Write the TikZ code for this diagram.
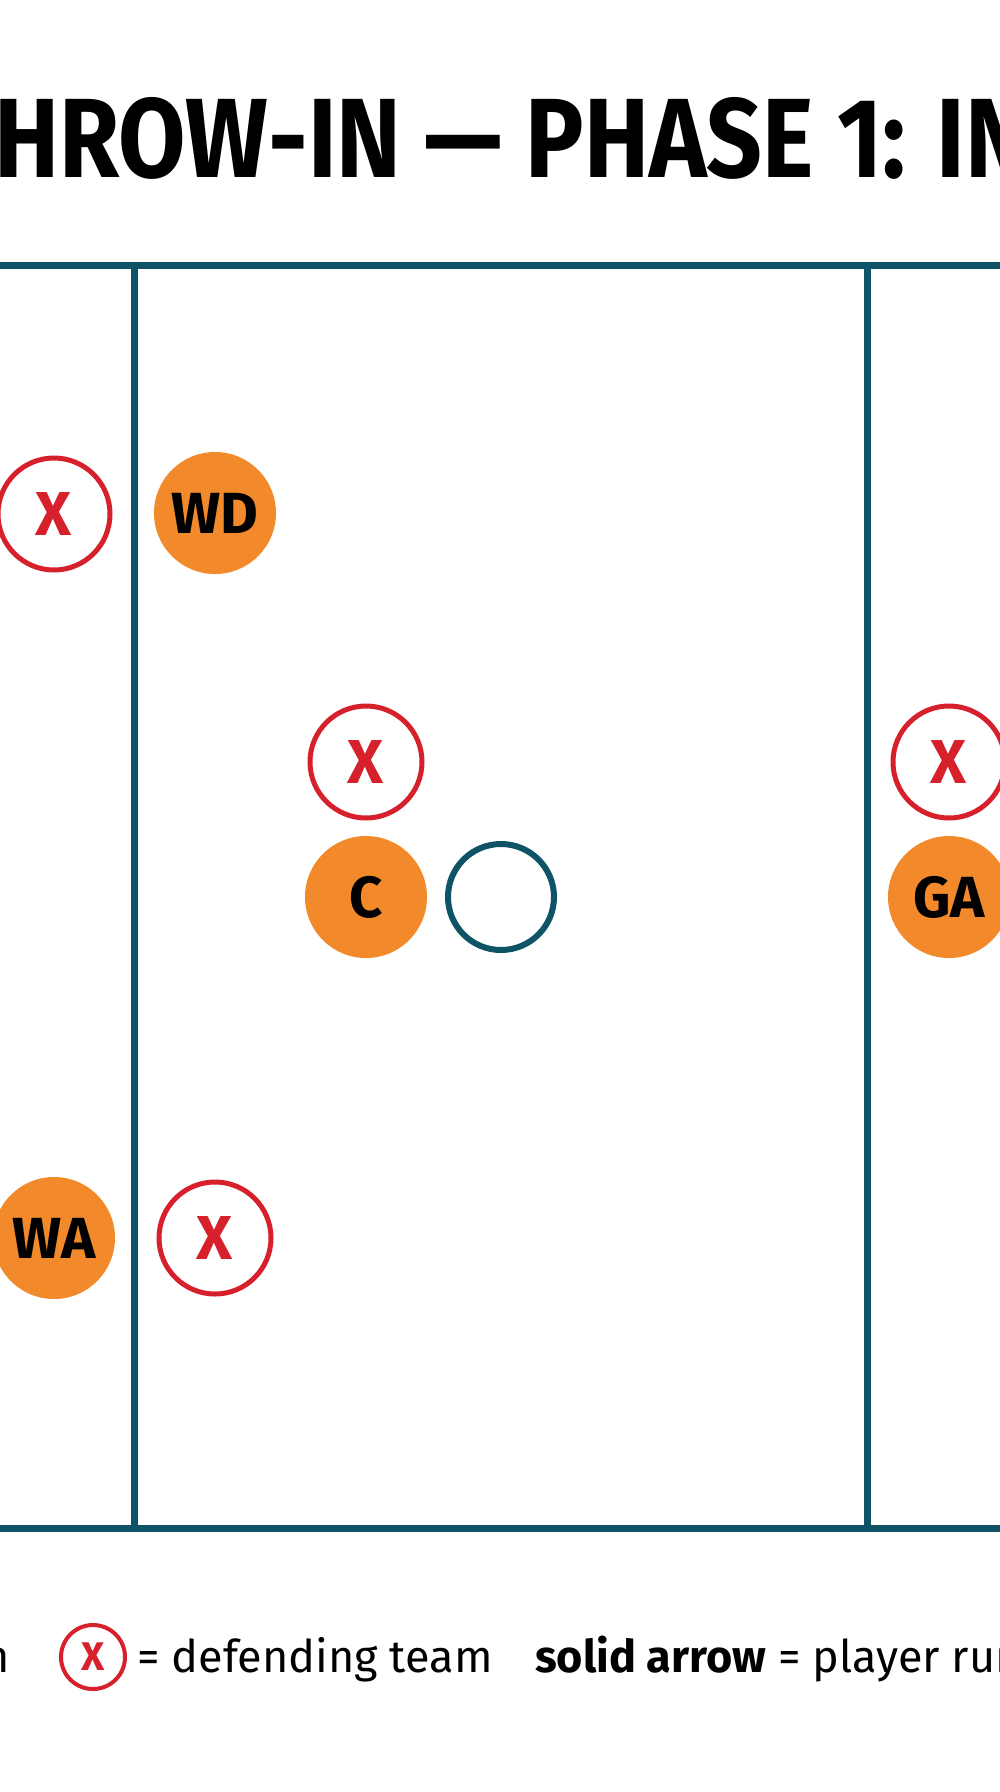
\documentclass[tikz,border=0pt]{standalone}
\usepackage{fontspec}
\setmainfont{Fira Sans}
\usepackage{graphicx}
\definecolor{teal1}{HTML}{0F5466}
\definecolor{red1}{HTML}{D6202C}
\definecolor{orange1}{HTML}{F28A2C}
\begin{document}
\begin{tikzpicture}[x=1pt,y=-1pt,
  def/.style={circle,draw=red1,line width=5pt,fill=white,minimum size=112pt,inner sep=0pt,text=red1,font=\fontsize{62}{62}\selectfont\bfseries},
  att/.style={circle,fill=orange1,minimum size=122pt,inner sep=0pt,text=black,font=\fontsize{58}{58}\selectfont\bfseries},
  court/.style={draw=teal1,line width=7pt},
  lab/.style={inner sep=0pt,font=\fontsize{45}{45}\selectfont}]
\useasboundingbox[fill=white] (0,0) rectangle (1000,1792);
\node[anchor=base west,inner sep=0pt,font=\bfseries] (title) at (-6,177) {\resizebox{1035pt}{80pt}{HROW-IN — PHASE 1: IN}};
\coordinate (tl) at (0,265); \coordinate (tr) at (1000,265);
\coordinate (bl) at (0,1528); \coordinate (br) at (1000,1528);
\coordinate (v1t) at (134,265); \coordinate (v1b) at (134,1528);
\coordinate (v2t) at (867,265); \coordinate (v2b) at (867,1528);
\draw[court] (tl) -- (tr); \draw[court] (bl) -- (br);
\draw[court] (v1t) -- (v1b); \draw[court] (v2t) -- (v2b);
\node[def] (d1) at (54,514) {X};
\node[def] (d2) at (366,762) {X};
\node[def] (d3) at (949,762) {X};
\node[def] (d4) at (215,1238) {X};
\node[att] (wd) at (215,513) {WD};
\node[att] (c) at (366,897) {C};
\node[att] (ga) at (949,897) {GA};
\node[att] (wa) at (54,1238) {WA};
\node[circle,draw=teal1,line width=6pt,minimum size=106pt] (ball) at (501,897) {};
\node[lab,anchor=base east] (l0) at (10,1672) {n};
\node[circle,draw=red1,line width=4pt,minimum size=64pt,inner sep=0pt,text=red1,font=\fontsize{40}{40}\selectfont\bfseries] (ld) at (93,1657) {X};
\node[lab,anchor=base west] (l1) at (137,1672) {= defending team};
\node[lab,anchor=base west] (l2) at (535,1672) {\textbf{solid arrow} = player run};
\end{tikzpicture}
\end{document}
